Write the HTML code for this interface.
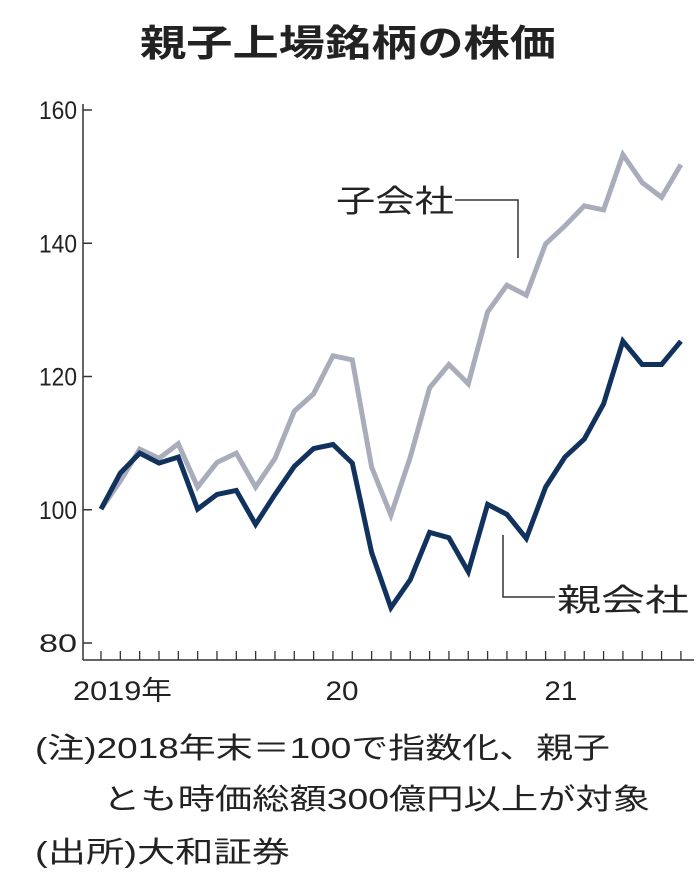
<!DOCTYPE html>
<html><head><meta charset="utf-8"><style>
html,body{margin:0;padding:0;background:#fff;}
svg{display:block;}
text{font-family:"Liberation Sans","Noto Sans CJK JP",sans-serif;fill:#222;}
</style></head><body>
<svg id="chart" width="696" height="882" viewBox="0 0 696 882" xmlns="http://www.w3.org/2000/svg">
<text x="140" y="56" font-size="37" font-weight="bold" textLength="416" lengthAdjust="spacingAndGlyphs" fill="#111">親子上場銘柄の株価</text>
<g id="yaxis"></g>
<g id="xaxis"></g>
<g id="series"></g>
<g>
<polyline points="455,200 518,200 518,258" fill="none" stroke="#333" stroke-width="1.5"/>
<text x="336" y="212" font-size="31" textLength="118" lengthAdjust="spacingAndGlyphs">子会社</text>
</g>
<g>
<polyline points="555,597 503,597 503,535" fill="none" stroke="#333" stroke-width="1.5"/>
<text x="557" y="611" font-size="31" textLength="132" lengthAdjust="spacingAndGlyphs">親会社</text>
</g>
<text x="35" y="758" font-size="29" textLength="575" lengthAdjust="spacingAndGlyphs">(注)2018年末＝100で指数化、親子</text>
<text x="103" y="809" font-size="29" textLength="547" lengthAdjust="spacingAndGlyphs">とも時価総額300億円以上が対象</text>
<text x="35" y="862" font-size="29" textLength="255" lengthAdjust="spacingAndGlyphs">(出所)大和証券</text>
</svg>
<script>
const yTicks = [80, 100, 120, 140, 160];
const xLabels = ["2019年", "20", "21"];
const xLabelIdx = [0, 12, 24];
const subsidiary = [100.1,104.3,109.1,107.7,109.9,103.4,107.1,108.5,103.4,107.7,114.8,117.4,123.1,122.5,106.4,99.2,107.9,118.3,121.8,118.9,129.7,133.7,132.2,139.9,142.6,145.6,145.0,153.3,149.1,146.9,151.8];
const parent = [100.1,105.5,108.5,107.0,107.9,100.1,102.3,102.9,97.8,102.3,106.5,109.2,109.8,107.0,93.6,85.3,89.5,96.6,95.8,90.7,100.8,99.3,95.7,103.4,107.9,110.6,115.9,125.3,121.8,121.8,125.3];

const NS = "http://www.w3.org/2000/svg";
const X0 = 101, DX = 19.33;
const xs = i => X0 + i * DX;
const ys = v => 643 - (v - 80) * (533 / 80);
function mk(tag, attrs, parent) {
  const e = document.createElementNS(NS, tag);
  for (const k in attrs) e.setAttribute(k, attrs[k]);
  parent.appendChild(e);
  return e;
}
const yg = document.getElementById('yaxis');
const yl = mk('line', {x1: 83, y1: 104, x2: 83, y2: 660, stroke: '#333', 'stroke-width': 1.5}, yg);


yTicks.forEach(t => {
  const tk = mk('line', {x1: 83, x2: 92, y1: ys(t), y2: ys(t), stroke: '#333', 'stroke-width': 1.5}, yg);
  
  
  const tx = mk('text', {x: 77, y: ys(t) + 9, 'font-size': 25, 'text-anchor': 'end', textLength: 38, lengthAdjust: 'spacingAndGlyphs'}, yg);
  tx.textContent = t;
  
  
});
const xg = document.getElementById('xaxis');
const xl = mk('line', {x1: 83, y1: 660, x2: 694, y2: 660, stroke: '#333', 'stroke-width': 1.5}, xg);


for (let i = 0; i < subsidiary.length; i++) {
  const tk = mk('line', {x1: xs(i), x2: xs(i), y1: 651, y2: 660, stroke: '#333', 'stroke-width': 1.3}, xg);
  
  
}
xLabels.forEach((l, k) => {
  const i = xLabelIdx[k];
  const attrs = k === 0 ? {x: 73, y: 700, 'font-size': 27, textLength: 99, lengthAdjust: 'spacingAndGlyphs'}
                        : {x: xs(i) + (k === 1 ? 9 : -4), y: 700, 'font-size': 27, 'text-anchor': 'middle', textLength: 33, lengthAdjust: 'spacingAndGlyphs'};
  const tx = mk('text', attrs, xg);
  tx.textContent = l;
  
  
});
const sg = document.getElementById('series');
function line(arr, color, name) {
  const pts = arr.map((v, i) => xs(i).toFixed(1) + ',' + ys(v).toFixed(1)).join(' ');
  const p = mk('polyline', {points: pts, fill: 'none', stroke: color, 'stroke-width': 5, 'stroke-linejoin': 'miter', 'stroke-miterlimit': 3}, sg);
  
  
}
line(subsidiary, '#a9acba', 'subsidiary-line');
line(parent, '#12325e', 'parent-line');
</script>
</body></html>
